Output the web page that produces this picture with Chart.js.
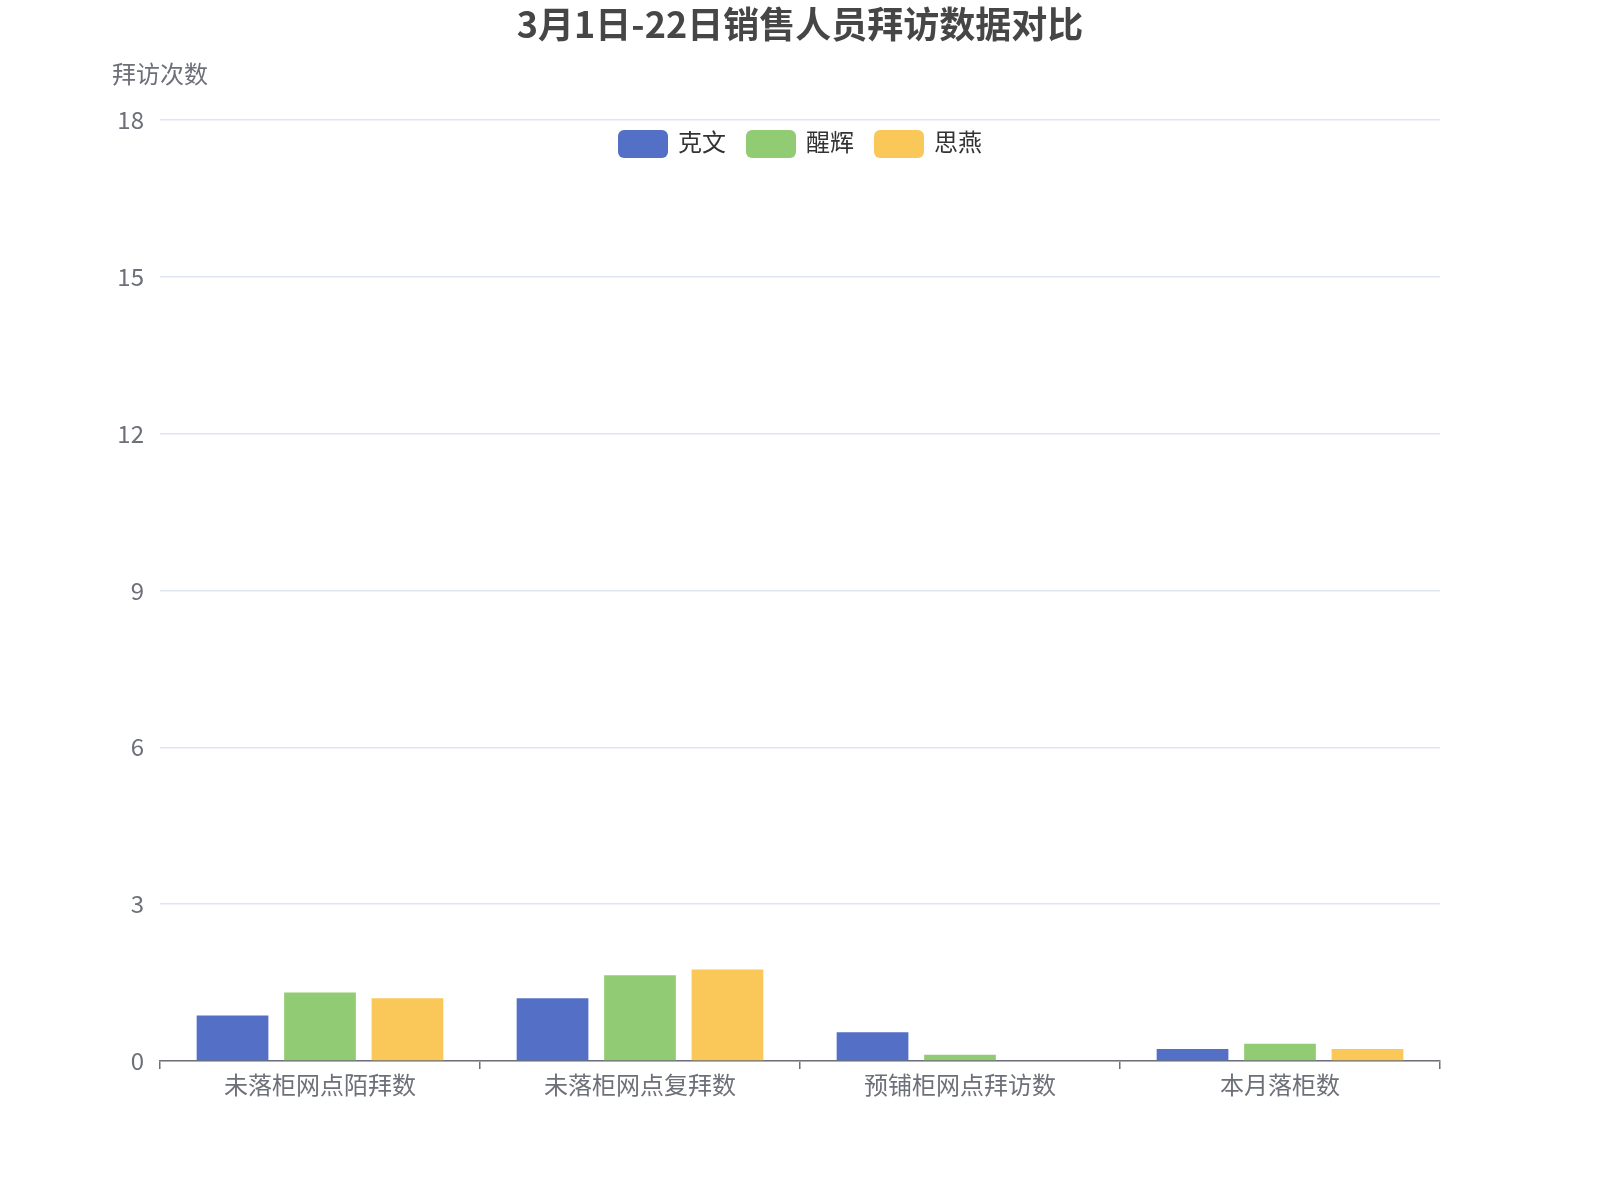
<!DOCTYPE html>
<html>
<head>
<meta charset="utf-8">
<script src="https://cdn.jsdelivr.net/npm/chart.js@4.4.1/dist/chart.umd.min.js"></script>
<style>
  html, body { margin: 0; padding: 0; background: #fff; }
  #wrap { width: 1600px; height: 1200px; }
</style>
</head>
<body>
<div id="wrap"><canvas id="visitChart"></canvas></div>
<script>
// categories and series
const categories = ['未落柜网点陌拜数', '未落柜网点复拜数', '预铺柜网点拜访数', '本月落柜数'];
const seriesNames = ['克文', '醒辉', '思燕'];
const kewen = [0.87, 1.2, 0.55, 0.23];
const xinghui = [1.31, 1.64, 0.12, 0.33];
const siyan = [1.2, 1.75, 0, 0.23];
const yTicks = [0, 3, 6, 9, 12, 15, 18];

const titleText = '3月1日-22日销售人员拜访数据对比';
const yAxisName = '拜访次数';
const colors = ['#5470c6', '#91cc75', '#fac858'];
const fontFamily = "'Noto Sans CJK SC', 'Noto Sans', sans-serif";

// title, axis name and legend drawn ECharts-style (legend sits inside the plot)
const decorPlugin = {
    id: 'decor',
    afterDraw(chart) {
        const ctx = chart.ctx;
        const area = chart.chartArea;
        ctx.save();

        ctx.fillStyle = '#464646';
        ctx.font = 'bold 36px ' + fontFamily;
        ctx.textAlign = 'center';
        ctx.textBaseline = 'middle';
        ctx.fillText(titleText, 800, 24);

        ctx.fillStyle = '#6e7079';
        ctx.font = '24px ' + fontFamily;
        ctx.fillText(yAxisName, area.left, 74);

        // legend
        const boxW = 50, boxH = 28, textGap = 10, itemGap = 20;
        ctx.font = '24px ' + fontFamily;
        const items = chart.data.datasets.map(ds => ({
            label: ds.label,
            color: ds.backgroundColor,
            w: boxW + textGap + ctx.measureText(ds.label).width
        }));
        const total = items.reduce((a, b) => a + b.w, 0) + itemGap * (items.length - 1);
        let x = (area.left + area.right) / 2 - total / 2;
        const cy = 144;
        items.forEach(it => {
            ctx.fillStyle = it.color;
            ctx.beginPath();
            ctx.roundRect(x, cy - boxH / 2, boxW, boxH, 6);
            ctx.fill();
            ctx.fillStyle = '#333';
            ctx.textAlign = 'left';
            ctx.fillText(it.label, x + boxW + textGap, cy - 2);
            x += it.w + itemGap;
        });
        ctx.restore();
    }
};

const ctx = document.getElementById('visitChart').getContext('2d');
new Chart(ctx, {
    type: 'bar',
    data: {
        labels: categories,
        datasets: [kewen, xinghui, siyan].map((d, i) => ({
            label: seriesNames[i],
            data: d,
            backgroundColor: colors[i],
            categoryPercentage: 0.82,
            barPercentage: 0.82
        }))
    },
    options: {
        responsive: true,
        maintainAspectRatio: false,
        devicePixelRatio: 1,
        animation: false,
        layout: { padding: { top: 120, right: 160, bottom: 0, left: 0 } },
        plugins: {
            legend: { display: false },
            title: { display: false },
            tooltip: { enabled: false }
        },
        scales: {
            x: {
                afterFit: scale => { scale.height = 139; },
                grid: {
                    offset: true,
                    drawOnChartArea: false,
                    drawTicks: true,
                    tickLength: 8,
                    color: '#6e7079',
                    lineWidth: 1.5
                },
                border: { color: '#6e7079', width: 1.5 },
                ticks: {
                    color: '#6e7079',
                    font: { family: fontFamily, size: 24 },
                    padding: 1,
                    maxRotation: 0
                }
            },
            y: {
                min: 0,
                max: 18,
                afterFit: scale => { scale.width = 160; },
                afterBuildTicks: scale => { scale.ticks = yTicks.map(v => ({ value: v })); },
                grid: { color: '#e0e6f1', lineWidth: 1.5, drawTicks: false },
                border: { display: false },
                ticks: {
                    color: '#6e7079',
                    font: { family: fontFamily, size: 24 },
                    padding: 16
                }
            }
        }
    },
    plugins: [decorPlugin]
});
</script>
</body>
</html>
